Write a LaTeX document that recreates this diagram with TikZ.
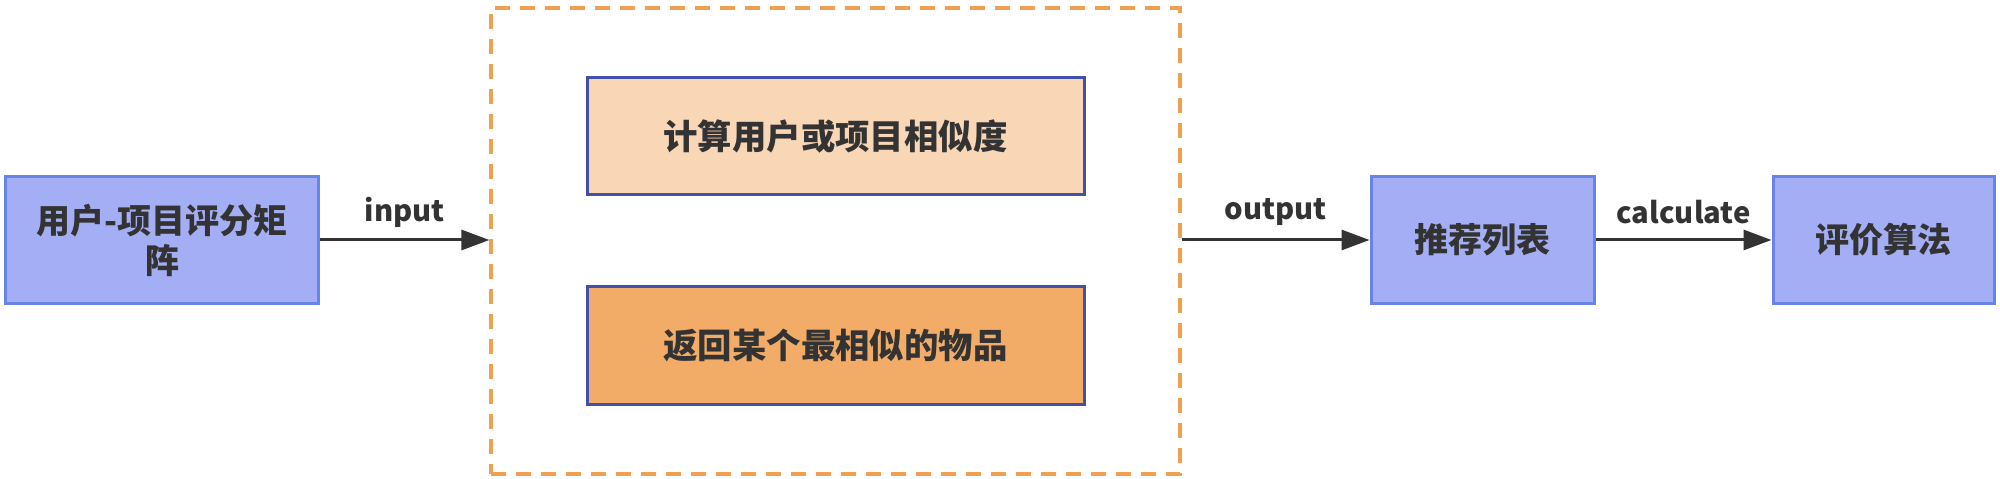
\documentclass[tikz,border=0pt]{standalone}
\usepackage{fontspec}
\setmainfont{Noto Sans CJK SC}
\usetikzlibrary{arrows.meta}
\definecolor{bluefill}{RGB}{164,174,245}
\definecolor{blueline}{RGB}{105,132,232}
\definecolor{peach}{RGB}{248,214,182}
\definecolor{orangefill}{RGB}{242,172,104}
\definecolor{darkline}{RGB}{66,80,170}
\definecolor{dashorange}{RGB}{240,160,80}
\definecolor{txt}{RGB}{51,51,51}
\tikzset{
  bluebox/.style={draw=blueline, fill=bluefill, line width=1.5bp, rectangle, align=center,
    text=txt, font=\fontsize{17bp}{20bp}\selectfont\bfseries, inner sep=0pt},
  innerbox/.style={draw=darkline, line width=1.5bp, rectangle, align=center,
    text=txt, font=\fontsize{17.2bp}{20bp}\selectfont\bfseries, inner sep=0pt,
    minimum width=248.5bp, minimum height=58.5bp},
  groupbox/.style={draw=dashorange, line width=1.6bp, dash pattern=on 7.5bp off 5bp, rectangle,
    minimum width=344.5bp, minimum height=233bp, inner sep=0pt},
  conn/.style={draw=txt, line width=1.5bp, -{Triangle[length=14bp,width=10bp]}},
  lbl/.style={text=txt, font=\fontsize{14.6bp}{17bp}\selectfont\bfseries, yshift=14bp}
}
\begin{document}
\begin{tikzpicture}[x=0.5bp,y=-0.5bp]
\useasboundingbox (0,0) rectangle (2000,479);
\node[bluebox, minimum width=156.5bp, minimum height=63.5bp] (mat) at (162,240) {用户-项目评分矩\\阵};
\node[groupbox] (grp) at (835.5,241) {};
\node[innerbox, fill=peach] (sim) at (835.5,136.5) {计算用户或项目相似度};
\node[innerbox, fill=orangefill] (ret) at (835.5,345.5) {返回某个最相似的物品};
\node[bluebox, minimum width=111.5bp, minimum height=63.5bp] (rec) at (1482.5,240) {推荐列表};
\node[bluebox, minimum width=110.5bp, minimum height=63.5bp] (eva) at (1883.5,240) {评价算法};
\draw[conn] (mat.east) -- node[lbl] (lin) {input} (grp.west |- mat.east);
\draw[conn] (grp.east |- rec.west) -- node[lbl] (lout) {output} (rec.west);
\draw[conn] (rec.east) -- node[lbl] (lcal) {calculate} (eva.west);
\end{tikzpicture}
\end{document}
